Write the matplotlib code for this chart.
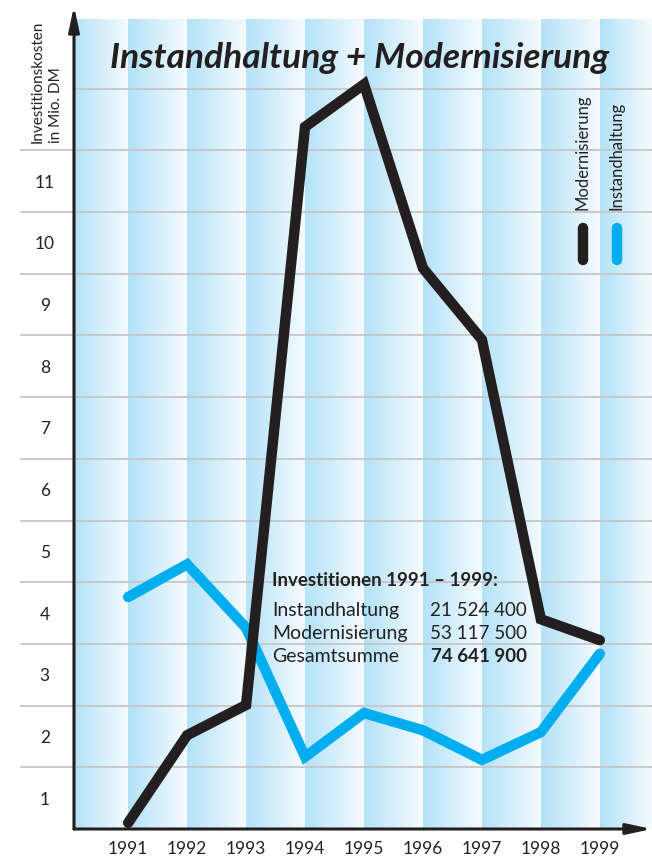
import numpy as np
import matplotlib.pyplot as plt
from matplotlib.colors import LinearSegmentedColormap

# Investitionen in Mio. DM
years = [1991, 1992, 1993, 1994, 1995, 1996, 1997, 1998, 1999]
instandhaltung = [3.76, 4.29, 3.26, 1.17, 1.88, 1.60, 1.12, 1.57, 2.84]
modernisierung = [0.10, 1.52, 2.01, 11.38, 12.07, 9.09, 7.93, 3.40, 3.06]
y_tick_labels = ["1", "2", "3", "4", "5", "6", "7", "8", "9", "10", "11"]
summary_rows = [("Instandhaltung", "21 524 400"),
                ("Modernisierung", "53 117 500")]
summary_total = ("Gesamtsumme", "74 641 900")

BLACK = "#231f20"
BLUE = "#00aeef"
STRIPE = "#b3e2f8"
GRID = "#c6c6c6"
FONT = "Lato"

W, H = 652, 857
fig = plt.figure(figsize=(W / 100, H / 100), dpi=100)

# pixel layout of the plot area
x_axis_px, y_axis_px = 74, 829
px_per_year, px_per_unit = 58.75, 61.7
x0_px = 128  # position of 1991

ax = fig.add_axes([x_axis_px / W, (H - y_axis_px) / H,
                   (W - x_axis_px) / W, y_axis_px / H])
xmin = years[0] - (x0_px - x_axis_px) / px_per_year
xmax = years[0] + (W - 2 - x0_px) / px_per_year
ymax = y_axis_px / px_per_unit
ax.set_xlim(xmin, xmax)
ax.set_ylim(0, ymax)
for s in ax.spines.values():
    s.set_visible(False)

# vertical stripes, each fading from blue to white
cmap = LinearSegmentedColormap.from_list("stripe", [STRIPE, "#f6fbfe"])
grad = np.linspace(0, 1, 256).reshape(1, -1)
stripe_top = (y_axis_px - 19) / px_per_unit
edges = [xmin] + years + [xmax]
for a, b in zip(edges[:-1], edges[1:]):
    ax.imshow(grad, cmap=cmap, extent=(a, b, 0, stripe_top),
              aspect="auto", zorder=0, interpolation="bilinear")

# horizontal grid lines, extended left into the label column
grid_left = years[0] - (x0_px - 21) / px_per_year
for v in range(1, 13):
    left = grid_left if v < 12 else xmin
    ax.plot([left, xmax], [v, v], color=GRID, lw=1.3, zorder=1, clip_on=False)

# axes with arrows
arrow = dict(arrowstyle="-|>,head_length=0.75,head_width=0.16", lw=2.2,
             color=BLACK, shrinkA=0, shrinkB=0, mutation_scale=20)
ax.annotate("", xy=(xmin, (y_axis_px - 6) / px_per_unit), xytext=(xmin, 0),
            arrowprops=arrow, annotation_clip=False, zorder=5)
ax.annotate("", xy=(xmax, 0), xytext=(xmin, 0),
            arrowprops=arrow, annotation_clip=False, zorder=5)

ax.plot(years, instandhaltung, color=BLUE, lw=7.5, solid_capstyle="round",
        solid_joinstyle="miter", zorder=3)
ax.plot(years, modernisierung, color=BLACK, lw=7.5, solid_capstyle="round",
        solid_joinstyle="miter", zorder=4)

# tick labels
ax.set_xticks(years)
ax.set_xticklabels([str(y) for y in years], fontsize=12.5, family=FONT,
                   color="#222222")
ax.set_yticks(np.arange(len(y_tick_labels)) + 0.5)
ax.set_yticklabels(y_tick_labels, fontsize=12.5, family=FONT, color="#222222")
ax.tick_params(axis="x", length=0, pad=9)
ax.tick_params(axis="y", length=0, pad=21)
for lab in ax.get_yticklabels():
    lab.set_horizontalalignment("center")

# y axis caption
fig.text(47 / W, 1 - 143 / H, "Investitionskosten\nin Mio. DM", rotation=90,
         rotation_mode="anchor", ha="left", va="center", multialignment="left",
         fontsize=11, family=FONT, color="#222222", linespacing=1.35)

# title
fig.text(360 / W, 1 - 68 / H, "Instandhaltung + Modernisierung",
         ha="center", va="baseline", fontsize=25.5, family=FONT,
         fontweight="bold", fontstyle="italic", color=BLACK)

# legend
for x_px, label, color in [(581, "Modernisierung", BLACK),
                           (615, "Instandhaltung", BLUE)]:
    fig.text((x_px + 2) / W, 1 - 210 / H, label, rotation=90,
             rotation_mode="anchor", ha="left", va="center", fontsize=12,
             family=FONT, color="#222222")
    lx = years[0] + (x_px - x0_px) / px_per_year
    ax.plot([lx, lx], [(y_axis_px - 260) / px_per_unit,
                       (y_axis_px - 228) / px_per_unit],
            color=color, lw=7.5, solid_capstyle="round", zorder=4)

# summary block
fig.text(272 / W, 1 - 586 / H, "Investitionen 1991 – 1999:", ha="left",
         va="baseline", fontsize=13.5, family=FONT, fontweight="bold",
         color="#222222")
for i, (name, value) in enumerate(summary_rows + [summary_total]):
    yb = 1 - (616 + i * 23) / H
    bold = name == summary_total[0]
    fig.text(272 / W, yb, name, ha="left", va="baseline", fontsize=14,
             family=FONT, color="#222222")
    fig.text(527 / W, yb, value, ha="right", va="baseline", fontsize=13.5,
             family=FONT, color="#222222",
             fontweight="bold" if bold else "normal")

fig.savefig("out.png", dpi=100)
